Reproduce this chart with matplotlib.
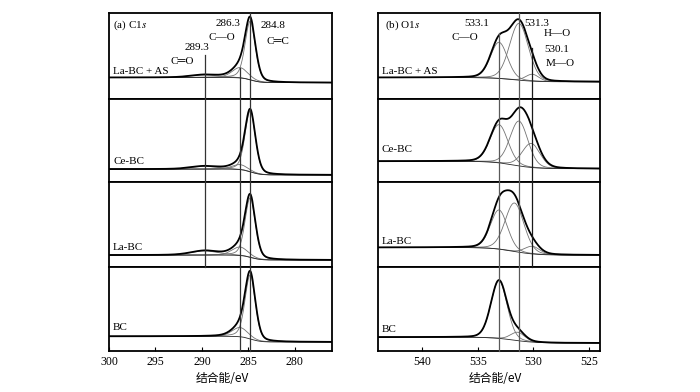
import numpy as np
import matplotlib
matplotlib.use("Agg")
import matplotlib.pyplot as plt
from matplotlib.lines import Line2D
from matplotlib.transforms import blended_transform_factory

plt.rcParams['font.family'] = ['Liberation Serif', 'DejaVu Sans']
plt.rcParams['mathtext.fontset'] = 'stix'

# ---- valores (intensidade normalizada por painel) ----
amostras = ["La-BC + AS", "Ce-BC", "La-BC", "BC"]

# C1s
c1s_fundo_alto = [0.25, 0.155, 0.14, 0.175]
c1s_fundo_baixo = [0.19, 0.085, 0.082, 0.107]
c1s_centros = [289.7, 285.9, 284.8]
c1s_amp = [[0.03, 0.12, 0.68],
           [0.035, 0.06, 0.73],
           [0.05, 0.10, 0.70],
           [0.0, 0.11, 0.76]]
c1s_fwhm = [3.5, 2.0, 1.3]

# O1s
o1s_fundo_alto = [0.25, 0.25, 0.23, 0.165]
o1s_fundo_baixo = [0.20, 0.16, 0.14, 0.095]
o1s_centros = [[533.1, 531.3, 530.1],
               [533.1, 531.3, 530.2],
               [533.1, 531.7, 530.1],
               [533.1, 531.4]]
o1s_amp = [[0.42, 0.66, 0.08],
           [0.46, 0.54, 0.29],
           [0.46, 0.57, 0.09],
           [0.69, 0.10]]
o1s_fwhm = [[1.8, 2.0, 1.4],
            [1.9, 1.9, 1.9],
            [1.8, 2.0, 1.6],
            [1.7, 1.5]]


def pico(x, c, a, w, eta=0.3):
    g = np.exp(-4 * np.log(2) * (x - c) ** 2 / w ** 2)
    l = 1 / (1 + 4 * (x - c) ** 2 / w ** 2)
    return a * (eta * l + (1 - eta) * g)


def fundo(x, alto, baixo, c, w):
    return baixo + (alto - baixo) / (1 + np.exp(-(x - c) / w))


W, H = 700, 392
fig = plt.figure(figsize=(7, 3.92), dpi=100)
linhas_px = [13, 99, 182, 267, 351]


def criar_eixos(x0, x1):
    eixos = []
    for i in range(4):
        ax = fig.add_axes([x0 / W, 1 - linhas_px[i + 1] / H,
                           (x1 - x0) / W, (linhas_px[i + 1] - linhas_px[i]) / H])
        ax.set_ylim(0, 1)
        ax.set_yticks([])
        for s in ax.spines.values():
            s.set_linewidth(1.3)
        ax.tick_params(axis='x', direction='in', length=3, labelsize=8.5,
                       bottom=(i == 3), labelbottom=(i == 3), top=False)
        eixos.append(ax)
    return eixos


ax_c = criar_eixos(109, 332)
ax_o = criar_eixos(378, 600)

# ----- C1s -----
x = np.linspace(276, 300, 600)
for i, ax in enumerate(ax_c):
    bg = fundo(x, c1s_fundo_alto[i], c1s_fundo_baixo[i], 284.7, 0.5)
    total = bg.copy()
    for c, a, w in zip(c1s_centros, c1s_amp[i], c1s_fwhm):
        if a <= 0:
            continue
        p = pico(x, c, a, w)
        total += p
        ax.plot(x, bg + p, color='0.45', lw=0.6)
    ax.plot(x, bg, color='0.15', lw=0.6)
    ax.plot(x, total, color='black', lw=1.3)
    ax.set_xlim(300, 276)
    ax.set_xticks([300, 295, 290, 285, 280])

# ----- O1s -----
x = np.linspace(524, 544, 600)
for i, ax in enumerate(ax_o):
    bg = fundo(x, o1s_fundo_alto[i], o1s_fundo_baixo[i], 531.8, 1.0)
    total = bg.copy()
    for c, a, w in zip(o1s_centros[i], o1s_amp[i], o1s_fwhm[i]):
        p = pico(x, c, a, w, eta=0.15)
        total += p
        ax.plot(x, bg + p, color='0.45', lw=0.6)
    ax.plot(x, bg, color='0.15', lw=0.6)
    ax.plot(x, total, color='black', lw=1.3)
    ax.set_xlim(544, 524)
    ax.set_xticks([540, 535, 530, 525])

# linhas verticais de referência (x em eV, y em pixels da figura)
def linha_vertical(ax, xv, topo, base, cor):
    tr = blended_transform_factory(ax.transData, fig.transFigure)
    fig.add_artist(Line2D([xv, xv], [1 - topo / H, 1 - base / H], transform=tr,
                          color=cor, lw=0.9))

linha_vertical(ax_c[3], 289.7, 55, 267, '0.2')
linha_vertical(ax_c[3], 285.9, 68, 351, '0.2')
linha_vertical(ax_c[3], 284.8, 13, 351, '0.2')
linha_vertical(ax_o[3], 533.1, 33, 351, '0.35')
linha_vertical(ax_o[3], 531.3, 13, 351, '0.35')
linha_vertical(ax_o[3], 530.1, 48, 267, '0.1')

# textos
def txt(px, py, s, ha='center'):
    fig.text(px / W, 1 - py / H, s, ha=ha, va='center', fontsize=8)

txt(113, 25, "(a) C1$s$", ha='left')
txt(228, 23, "286.3")
txt(273, 26, "284.8")
txt(222, 38, "C—O")
txt(278, 42, "C═C")
txt(197, 48, "289.3")
txt(182, 62, "C═O")

txt(385, 25, "(b) O1$s$", ha='left')
txt(477, 24, "533.1")
txt(465, 37, "C—O")
txt(537, 23, "531.3")
txt(557, 33, "H—O")
txt(557, 50, "530.1")
txt(560, 63, "M—O")

for py, s in zip([71, 162, 248, 327], amostras):
    txt(113, py, s, ha='left')
for py, s in zip([71, 150, 242, 330], amostras):
    txt(382, py, s, ha='left')

for px in (222, 495):
    fig.text(px / W, 1 - 378 / H, "结合能/eV", ha='center', va='center',
             fontsize=8.5, family=['Noto Sans CJK SC', 'DejaVu Sans'])

fig.savefig("out.png", dpi=100)
